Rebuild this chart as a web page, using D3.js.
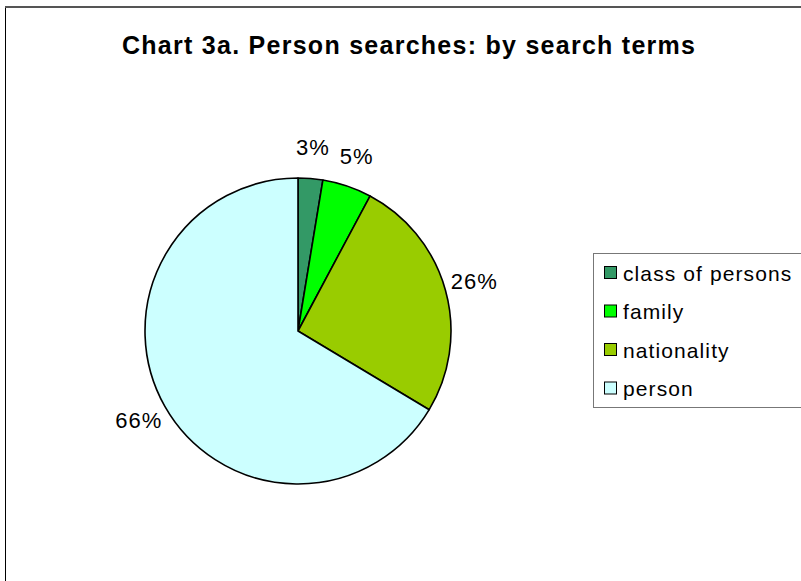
<!DOCTYPE html>
<html><head><meta charset="utf-8">
<script src="https://cdn.jsdelivr.net/npm/d3@7"></script>
<style>body{margin:0;background:#fff}svg{display:block}</style>
</head><body>
<svg id="c" width="801" height="581"></svg>
<script>
const categories = ["class of persons", "family", "nationality", "person"];
const values = [2.6, 5.2, 25.8, 66.4];
const colors = ["#339966", "#00FF00", "#99CC00", "#CCFFFF"];
const title = "Chart 3a. Person searches: by search terms";

const svg = d3.select("#c");
const font = "Arial, 'Liberation Sans', Helvetica, sans-serif";

// outer frame
svg.append("rect").attr("x",5.5).attr("y",7).attr("width",820).attr("height",600)
  .attr("fill","#fff").attr("stroke","#000").attr("stroke-width",1);
svg.append("line").attr("x1",5).attr("x2",801).attr("y1",7).attr("y2",7)
  .attr("stroke","#555").attr("stroke-width",2);

svg.append("text").attr("x",122).attr("y",54)
  .attr("font-family",font).attr("font-weight","bold").attr("font-size",25)
  .attr("textLength",573).attr("lengthAdjust","spacing")
  .attr("fill","#000").text(title);

const cx = 298, cy = 331, r = 153;
const pie = d3.pie().sort(null).value(d=>d)(values);
const arc = d3.arc().innerRadius(0).outerRadius(r);
const labelArc = d3.arc().innerRadius(183).outerRadius(183);
const total = d3.sum(values);
const g = svg.append("g").attr("transform",`translate(${cx},${cy})`);
g.selectAll("path").data(pie).join("path")
  .attr("d",arc).attr("fill",(d,i)=>colors[i])
  .attr("stroke","#000").attr("stroke-width",1.6).attr("stroke-linejoin","round");
g.selectAll("text").data(pie).join("text")
  .attr("transform",d=>`translate(${labelArc.centroid(d)})`)
  .attr("text-anchor","middle").attr("dy","0.3em")
  .attr("font-family",font).attr("font-size",22).attr("letter-spacing",1)
  .attr("fill","#000")
  .text(d=>Math.round(d.value/total*100)+"%");

// legend
const lg = svg.append("g");
lg.append("rect").attr("x",593.5).attr("y",253.5).attr("width",230).attr("height",154)
  .attr("fill","#fff").attr("stroke","#777").attr("stroke-width",1);
const rows = lg.selectAll("g.row").data(categories).join("g")
  .attr("class","row").attr("transform",(d,i)=>`translate(0,${273+i*38.5})`);
rows.append("rect").attr("x",604.5).attr("y",-6.5).attr("width",12).attr("height",12)
  .attr("fill",(d,i)=>colors[i]).attr("stroke","#000").attr("stroke-width",1);
rows.append("text").attr("x",623).attr("dy","0.36em")
  .attr("font-family",font).attr("font-size",21).attr("letter-spacing",1.1)
  .attr("fill","#000").text(d=>d);
</script>
</body></html>
